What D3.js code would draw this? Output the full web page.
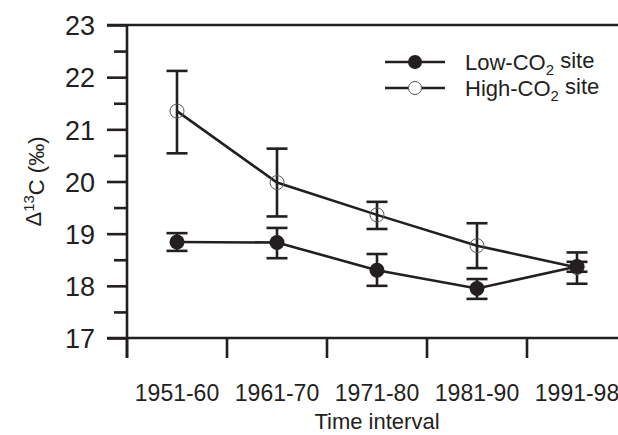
<!DOCTYPE html>
<html>
<head>
<meta charset="utf-8">
<script src="https://cdn.jsdelivr.net/npm/d3@7"></script>
<style>
  body { margin: 0; background: #fff; }
  svg { display: block; font-family: "Liberation Sans", Arial, sans-serif; }
</style>
</head>
<body>
<div id="chart"></div>
<script>
const categories = ["1951-60", "1961-70", "1971-80", "1981-90", "1991-98"];
const lowMean = [18.84, 18.83, 18.30, 17.95, 18.37];
const lowLo = [18.67, 18.53, 18.00, 17.75, 18.27];
const lowHi = [19.01, 19.11, 18.61, 18.13, 18.46];
const highMean = [21.35, 19.98, 19.36, 18.77, 18.35];
const highLo = [20.54, 19.33, 19.09, 18.34, 18.04];
const highHi = [22.12, 20.63, 19.61, 19.20, 18.64];

const width = 618, height = 435;
const ink = "#231f20";
const plotLeft = 127, plotTop = 25, plotBottom = 338;

const svg = d3.select("#chart").append("svg")
  .attr("width", width).attr("height", height);

const x = d3.scaleBand().domain(categories).range([plotLeft, plotLeft + 500]).padding(0);
const y = d3.scaleLinear().domain([17, 23]).range([plotBottom, plotTop]);
const cx = c => x(c) + x.bandwidth() / 2;

// y axis (major + minor ticks)
const yAxis = svg.append("g").attr("transform", `translate(${plotLeft},0)`)
  .call(d3.axisLeft(y).tickValues(d3.range(17, 23.01, 0.5)).tickFormat(""));
yAxis.select(".domain").remove();
yAxis.selectAll(".tick line")
  .attr("stroke", ink).attr("stroke-width", 2.6)
  .attr("x2", d => Number.isInteger(d) ? -20 : -13);
yAxis.selectAll(".tick").filter(d => Number.isInteger(d)).append("text")
  .attr("x", -32).attr("dy", "0.36em")
  .attr("text-anchor", "end").attr("fill", ink)
  .style("font-size", "27px").text(d => d);

svg.append("line").attr("x1", plotLeft).attr("x2", plotLeft)
  .attr("y1", plotTop).attr("y2", plotBottom + 20)
  .attr("stroke", ink).attr("stroke-width", 2.6);

// top and bottom frame lines
svg.append("line").attr("x1", plotLeft - 20).attr("x2", width)
  .attr("y1", y(23)).attr("y2", y(23))
  .attr("stroke", ink).attr("stroke-width", 2.6);

const xAxis = svg.append("g").attr("transform", `translate(0,${plotBottom})`)
  .call(d3.axisBottom(x).tickSize(0).tickFormat(""));
xAxis.select(".domain").remove();
xAxis.append("line").attr("x1", plotLeft - 20).attr("x2", width)
  .attr("stroke", ink).attr("stroke-width", 2.6);
xAxis.selectAll(".tick").append("line")
  .attr("x1", -x.bandwidth() / 2).attr("x2", -x.bandwidth() / 2)
  .attr("y2", 20).attr("stroke", ink).attr("stroke-width", 2.6);
xAxis.selectAll(".tick").append("text")
  .attr("y", 63).attr("text-anchor", "middle").attr("fill", ink)
  .style("font-size", "23px").text(d => d);

// axis titles
svg.append("text").attr("x", cx(categories[2])).attr("y", 429)
  .attr("text-anchor", "middle").attr("fill", ink)
  .style("font-size", "22px").text("Time interval");

const yt = svg.append("text")
  .attr("transform", `translate(41,${(plotTop + plotBottom) / 2}) rotate(-90)`)
  .attr("text-anchor", "middle").attr("fill", ink).style("font-size", "22px");
yt.append("tspan").text("\u0394");
yt.append("tspan").attr("dy", "-0.45em").style("font-size", "15px").text("13");
yt.append("tspan").attr("dy", "0.45em").text("C (\u2030)");

// series
const series = [
  { name: "high", mean: highMean, lo: highLo, hi: highHi },
  { name: "low", mean: lowMean, lo: lowLo, hi: lowHi }
];
const line = d3.line().x(d => cx(d.c)).y(d => y(d.v));

series.forEach(s => {
  const pts = categories.map((c, i) => ({ c, v: s.mean[i], lo: s.lo[i], hi: s.hi[i] }));
  const g = svg.append("g");
  pts.forEach(p => {
    g.append("line").attr("x1", cx(p.c)).attr("x2", cx(p.c))
      .attr("y1", y(p.lo)).attr("y2", y(p.hi))
      .attr("stroke", ink).attr("stroke-width", 2.6);
    [p.lo, p.hi].forEach(v => {
      g.append("line").attr("x1", cx(p.c) - 10.5).attr("x2", cx(p.c) + 10.5)
        .attr("y1", y(v)).attr("y2", y(v))
        .attr("stroke", ink).attr("stroke-width", 2.6);
    });
  });
  g.append("path").datum(pts).attr("d", line)
    .attr("fill", "none").attr("stroke", ink).attr("stroke-width", 2.6);
  g.selectAll("circle").data(pts).join("circle")
    .attr("cx", d => cx(d.c)).attr("cy", d => y(d.v))
    .attr("r", s.name === "low" ? 7.5 : 7)
    .attr("fill", s.name === "low" ? ink : "none")
    .attr("stroke", s.name === "low" ? "none" : "#555")
    .attr("stroke-width", 1);
});

// legend
const legend = [
  { label: "Low-CO", filled: true },
  { label: "High-CO", filled: false }
];
legend.forEach((l, i) => {
  const ly = 62 + i * 26;
  svg.append("line").attr("x1", 385).attr("x2", 445).attr("y1", ly).attr("y2", ly)
    .attr("stroke", ink).attr("stroke-width", 2.6);
  svg.append("circle").attr("cx", 415).attr("cy", ly).attr("r", l.filled ? 7 : 6.5)
    .attr("fill", l.filled ? ink : "#fff")
    .attr("stroke", l.filled ? "none" : "#555").attr("stroke-width", 1);
  const t = svg.append("text").attr("x", 465).attr("y", ly + 8)
    .attr("fill", ink).style("font-size", "22px");
  t.append("tspan").text(l.label);
  t.append("tspan").attr("dy", "0.3em").style("font-size", "15px").text("2");
  t.append("tspan").attr("dy", "-0.3em").text(" site");
});
</script>
</body>
</html>
